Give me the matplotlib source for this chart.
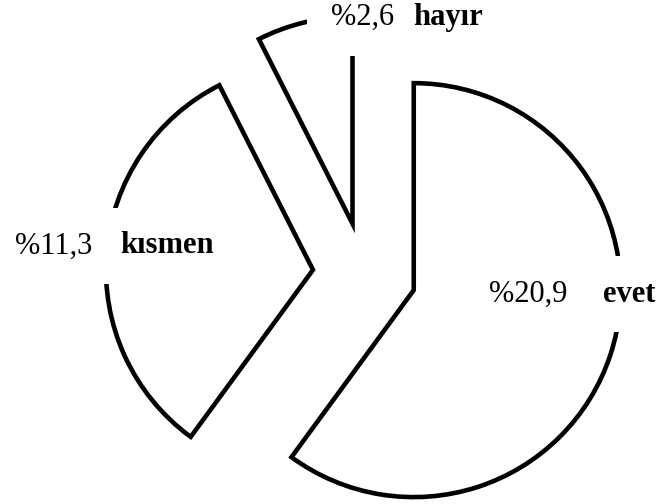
import matplotlib
matplotlib.use("Agg")
import matplotlib.pyplot as plt

# Answer shares (percent) and their category names
categories = ["evet", "kısmen", "hayır"]
values = [20.9, 11.3, 2.6]
value_labels = ["%20,9", "%11,3", "%2,6"]

# Label anchor points (data units, pie radius = 1): number text, then bold word
num_pos = [(0.603, -0.133), (-1.688, 0.100), (-0.162, 1.203)]
word_pos = [(1.151, -0.133), (-1.178, 0.100), (0.236, 1.203)]

plt.rcParams["font.family"] = ["Liberation Serif", "DejaVu Serif"]

fig = plt.figure(figsize=(6.61, 5.04), dpi=100)
ax = fig.add_axes([0, 0, 1, 1])

wedges, _ = ax.pie(
    values,
    startangle=90,
    counterclock=False,
    explode=[0.25] * len(values),
    radius=1.0,
    center=(0, 0),
    wedgeprops=dict(facecolor="white", edgecolor="black", linewidth=3.3,
                    joinstyle="miter"),
)

box = dict(facecolor="white", edgecolor="none", pad=17)
for lab, name, p_num, p_word in zip(value_labels, categories, num_pos, word_pos):
    for txt, pos, weight in ((lab, p_num, "normal"), (name, p_word, "bold")):
        # white backing box first, then the visible text on top of all boxes
        ax.text(pos[0], pos[1], txt, fontsize=22, fontweight=weight,
                ha="left", va="baseline", color="none", bbox=box, zorder=4)
        ax.text(pos[0], pos[1], txt, fontsize=22, fontweight=weight,
                ha="left", va="baseline", color="black", zorder=6)

ax.set_xlim(-1.761, 1.432)
ax.set_ylim(-1.111, 1.324)
ax.set_aspect("auto")
ax.axis("off")

fig.savefig("out.png", dpi=100, facecolor="white")
